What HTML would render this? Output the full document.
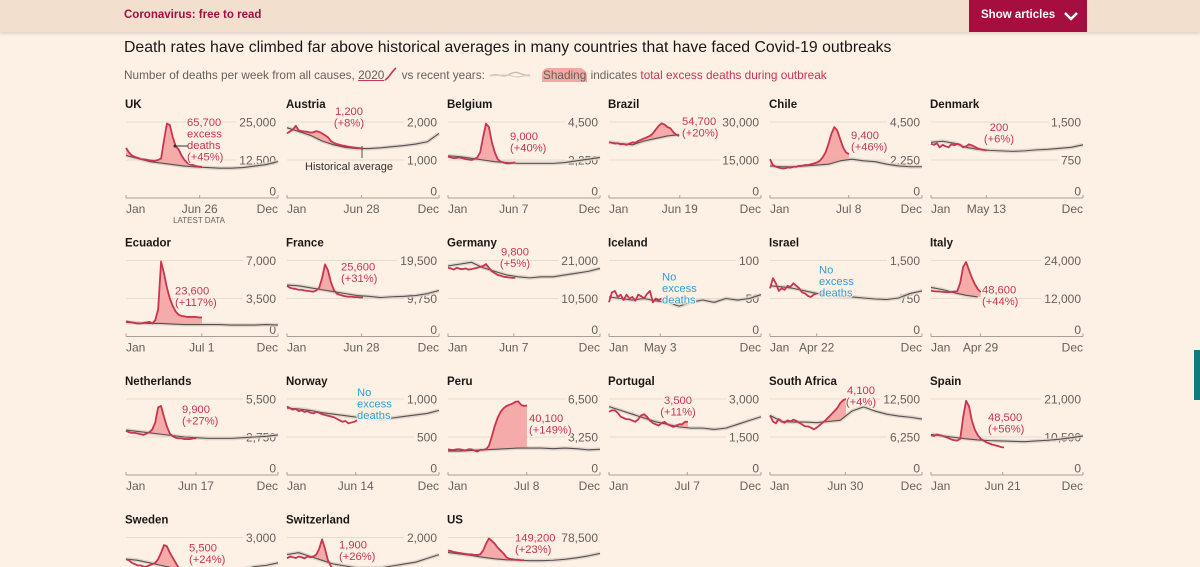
<!DOCTYPE html>
<html><head><meta charset="utf-8">
<style>
html,body{margin:0;padding:0;}
body{width:1200px;height:567px;overflow:hidden;background:#fdf1e6;font-family:"Liberation Sans",sans-serif;position:relative;}
#topbar{position:absolute;left:0;top:0;width:1200px;height:32px;background:#f2dfce;box-shadow:0 2px 3px rgba(0,0,0,0.12);}
#topbar .lnk{position:absolute;left:124px;top:9px;font-size:11.5px;font-weight:bold;color:#a50e3f;}
#btn{position:absolute;left:969px;top:0;width:118px;height:32px;background:#a50e3f;color:#fff;font-size:11.5px;font-weight:bold;}
#btn span{position:absolute;left:12px;top:9px;}
#title{position:absolute;left:124px;top:39px;font-size:15.8px;color:#1a1817;white-space:nowrap;}
#sub{position:absolute;left:124px;top:67px;font-size:11.8px;color:#66605c;white-space:nowrap;}
#sub .red{color:#c9344f;}
#teal{position:absolute;left:1194px;top:350px;width:6px;height:50px;background:#0f7a80;}
svg#chart{position:absolute;left:0;top:0;}
</style></head>
<body>
<div id="topbar">
  <div class="lnk">Coronavirus: free to read</div>
  <div id="btn"><span>Show articles</span>
    <svg width="16" height="12" style="position:absolute;left:94px;top:11px"><polyline points="2,2 8,8 14,2" fill="none" stroke="#fff" stroke-width="2.5"/></svg>
  </div>
</div>
<div id="title">Death rates have climbed far above historical averages in many countries that have faced Covid-19 outbreaks</div>
<div id="sub">Number of deaths per week from all causes, <span style="text-decoration:underline;text-decoration-color:#c9344f">2020</span><svg width="14" height="14" style="vertical-align:-2px"><path d="M1,13 C5,11 8,4 12,1" stroke="#c9344f" stroke-width="1.6" fill="none"/></svg> vs recent years: <svg width="44" height="10" style="vertical-align:-1px"><path d="M2,6 C10,2 14,9 22,4 S34,7 42,5" stroke="#c8bfb7" stroke-width="1.5" fill="none"/><path d="M2,5 C10,7 16,3 24,6 S36,4 42,6" stroke="#d6cdc4" stroke-width="1.2" fill="none"/></svg> &nbsp; <span style="background:#f4a8a3;border-radius:6px 8px 0 0;padding:0 1px">Shading</span> indicates <span class="red">total excess deaths during outbreak</span></div>
<div id="teal"></div>
<svg id="chart" width="1200" height="567"></svg>
<script>
const countries = ["UK","Austria","Belgium","Brazil","Chile","Denmark","Ecuador","France","Germany","Iceland","Israel","Italy","Netherlands","Norway","Peru","Portugal","South Africa","Spain","Sweden","Switzerland","US"];
const yMax = [25000,2000,4500,30000,4500,1500,7000,19500,21000,100,1500,24000,5500,1000,6500,3000,12500,21000,3000,2000,78500];
const yTickTop = ["25,000","2,000","4,500","30,000","4,500","1,500","7,000","19,500","21,000","100","1,500","24,000","5,500","1,000","6,500","3,000","12,500","21,000","3,000","2,000","78,500"];
const yTickMid = ["12,500","1,000","2,250","15,000","2,250","750","3,500","9,750","10,500","50","750","12,000","2,750","500","3,250","1,500","6,250","10,500","1,500","1,000","39,250"];
const latestLabel = ["Jun 26","Jun 28","Jun 7","Jun 19","Jul 8","May 13","Jul 1","Jun 28","Jun 7","May 3","Apr 22","Apr 29","Jun 17","Jun 14","Jul 8","Jul 7","Jun 30","Jun 21","Jun 28","Jun 28","Jun 28"];
const latestDay = [177,179,158,170,189,133,182,179,158,123,112,119,168,165,189,188,181,172,179,179,179];
const excessLabel = [["65,700","excess","deaths","(+45%)"],["1,200","(+8%)"],["9,000","(+40%)"],["54,700","(+20%)"],["9,400","(+46%)"],["200","(+6%)"],["23,600","(+117%)"],["25,600","(+31%)"],["9,800","(+5%)"],["No","excess","deaths"],["No","excess","deaths"],["48,600","(+44%)"],["9,900","(+27%)"],["No","excess","deaths"],["40,100","(+149%)"],["3,500","(+11%)"],["4,100","(+4%)"],["48,500","(+56%)"],["5,500","(+24%)"],["1,900","(+26%)"],["149,200","(+23%)"]];
const hasExcess = [1,1,1,1,1,1,1,1,1,0,0,1,1,0,1,1,1,1,1,1,1];
// weekly 2020 deaths (week 0 = Jan)
const s2020 = [
[16500,15000,14000,13500,13200,12800,12700,12600,12400,12300,12300,12500,13000,19000,24500,24000,20000,17000,16000,14000,12500,11500,11000,10800,10500,10300,10200],
[1700,1750,1800,1900,1780,1760,1750,1740,1720,1730,1760,1740,1700,1650,1600,1500,1450,1420,1400,1380,1370,1350,1340,1330,1320,1310,1300],
[2450,2400,2350,2380,2400,2350,2300,2280,2250,2300,2400,2700,3600,4400,4200,3300,2700,2300,2150,2100,2050,2050,2080,2100],
[22000,21800,21500,21600,21200,21300,21000,21500,22000,21800,22500,23000,23500,24000,24500,25500,27000,28500,29500,29000,28000,27500,26000,25000,24500],
[2300,1950,1850,1800,1750,1750,1800,1800,1850,1850,1900,1900,1950,1950,2000,2050,2100,2200,2400,2700,3200,3800,4200,4000,3500,3000,2700,2600],
[1070,1050,1080,1000,1050,1020,1000,1060,1040,1070,1050,1000,1020,1060,1040,1010,980,960,950,940],
[1400,1350,1300,1250,1200,1200,1250,1300,1350,1200,1500,2500,6900,5800,4500,3500,2800,2300,2000,1900,1850,1800,1800,1800,1800,1750,1750],
[13000,12500,12300,12200,12000,12000,11800,11700,11600,11500,11800,12500,15000,18500,17000,14000,12000,11000,10700,10500,10300,10200,10200,10100,10100,10000,10000],
[19000,18800,18500,19000,18700,18600,18800,18500,18600,18800,19000,19200,19500,20000,19000,18000,17500,17000,16800,16500,16400,16300,16200,16200],
[45,58,60,52,55,48,55,50,52,47,55,53,50,56,60,45,50,48,50],
[950,1150,1050,900,950,920,1000,980,1050,1000,950,870,850,800,780,830,850],
[14500,14300,14200,14200,14100,14000,14000,14100,14200,14300,17000,22000,23500,21000,18500,16500,15000,14000],
[3200,3100,3050,3050,3000,2950,2900,3000,3100,3300,3800,4900,5000,4200,3500,3000,2800,2700,2650,2650,2600,2600,2600,2650,2650],
[900,880,860,870,840,850,830,840,820,810,830,820,800,790,780,770,760,740,720,700,710,680,690,700,720],
[2200,2150,2150,2200,2200,2150,2100,2200,2200,2100,2000,2150,2150,2200,2500,3300,4200,4900,5400,5700,5900,6000,6100,6250,6300,6000,5900,5950],
[2500,2550,2550,2450,2300,2250,2200,2200,2150,2100,2200,2350,2400,2300,2150,2050,2000,1950,2050,2100,2000,1950,1900,1950,2000,2000,2100,2100],
[9800,8800,8500,9200,8800,8600,9000,8800,9100,8900,8600,8300,8000,8000,7800,7500,7800,8200,8600,9000,9500,10000,10500,11000,11800,12300,12500],
[11000,10800,11200,11000,10800,10500,10200,9800,9600,9500,10000,16000,20500,19000,15000,12500,11000,10000,9500,9000,8700,8400,8200,8000,7700,7600],
[2150,2100,2000,1950,1900,1900,1850,1850,1900,1950,2000,2150,2400,2700,2650,2400,2200,2000,1800,1700,1650,1600,1550,1550,1500,1500],
[1450,1500,1480,1460,1500,1480,1450,1500,1480,1500,1550,1700,1950,1700,1400,1250,1150,1100,1100,1100,1100,1100,1100,1100,1100,1100],
[65000,64500,63500,63000,62500,62000,61500,61000,61000,60500,60500,61000,65000,72000,77500,75000,72000,68000,65000,62000,58000,56500,56000,55500,55500,55000,55000]
];
// historical average, every 4 weeks (0,4,...,52)
const sAvg = [
[14000,13000,12000,11500,11000,10500,10200,10000,9800,9800,10000,10500,11000,12000],
[1850,1750,1650,1500,1400,1330,1300,1300,1320,1350,1380,1420,1480,1700],
[2500,2450,2350,2250,2150,2100,2050,2050,2050,2050,2100,2200,2300,2400],
[22000,21500,21000,22500,23500,24500,25000],
[1900,1850,1850,1900,1950,2000,2200,2300,2200,2150,2000,1900,1850,1850],
[1100,1120,1080,1000,960,940,930,920,930,950,960,980,1000,1050],
[1300,1250,1200,1200,1150,1100,1100,1100,1100,1050,1050,1050,1100,1050],
[13200,13000,12500,12000,11500,11000,10500,10300,10000,10200,10300,10500,11000,11800],
[19500,20000,20500,19000,18000,17000,16500,16200,16500,16500,17000,17500,18000,18800],
[52,50,48,50,47,45,40,45,48,45,50,48,50,55],
[1000,980,950,900,850,820,800,780,760,740,730,760,850,900],
[15500,14800,13800,13000,12500],
[3250,3150,3050,2950,2850,2750,2700,2650,2650,2650,2700,2750,2800,2900],
[880,870,850,820,800,780,760,750,740,750,770,790,810,850],
[2050,2050,2100,2150,2200,2250,2300,2300,2300,2250,2300,2250,2150,2200],
[2700,2550,2400,2250,2100,2000,1900,1850,1850,1800,1850,2000,2150,2300],
[9800,8800,8700,8700,8600,8800,9000,10500,11200,10500,10000,9700,9500,9200],
[11200,10800,10400,10000,9700,9500,9400,9300,9200,9400,9600,9900,10300,10800],
[2150,2100,2000,1900,1800,1750,1700,1650,1650,1700,1750,1850,1900,2000],
[1550,1600,1500,1400,1300,1250,1200,1200,1200,1250,1300,1350,1450,1550],
[63000,61500,60000,58000,56500,55500,55000,54500,54500,55000,56000,57500,59500,62000]
];
// annotation offsets from panel origin (layout, px)
const noteOffset = [[61,13],[48,2],[62,27],[73,12],[81,26],[54,18],[49,43],[54,19],[53,4],[53,29],[49,22],[51,42],[56,23],[70,6],[81,32],[55,14],[77,4],[57,31],[63,23],[52,20],[67,13]];
const centered = [0,1,0,0,0,1,0,0,1,0,0,0,0,0,0,1,1,0,0,0,0];

const NS = "http://www.w3.org/2000/svg";
const svg = document.getElementById('chart');
function mk(tag, attrs, parent){ const e=document.createElementNS(NS,tag); for(const k in attrs) e.setAttribute(k,attrs[k]); (parent||svg).appendChild(e); return e; }
const W = 152;
countries.forEach((name,i)=>{
  const c = i%6, r = Math.floor(i/6);
  const L = 126 + 161*c, T = 104 + 138.5*r;
  const zero = T+94, h = 76;
  const g = mk('g',{});
  
  
  const xS = w => L + w/52*W;
  const yS = v => zero - v/yMax[i]*h;
  const avgAt = w => { const a=sAvg[i]; const k=w/4; const j=Math.min(Math.floor(k),a.length-1); if(j>=a.length-1) return a[a.length-1]; const f=k-j; return a[j]*(1-f)+a[j+1]*f; };
  const t = mk('text',{x:L-1,y:T+4,'font-size':11.5,'font-weight':'bold',fill:'#1a1817'},g); t.textContent=name;
  
  
  // y labels + gridlines
  [[yTickTop[i],zero-h,1],[yTickMid[i],zero-h/2,1],['0',zero-7,0]].forEach(p=>{
    const yl = mk('text',{x:L+W-2,y:p[1]+4.5,'text-anchor':'end','font-size':12,fill:'#66605c'},g);
    yl.textContent=p[0];
    
    
    if(p[2]){
      const tw = yl.getComputedTextLength ? yl.getComputedTextLength() : 36;
      const gl=mk('line',{x1:L,x2:L+W-tw-5,y1:p[1],y2:p[1],stroke:'#e6dbd0','stroke-width':1},g);
      g.insertBefore(gl, g.firstChild.nextSibling);
      
      
    }
  });
  const aPts = sAvg[i].map((v,k)=>xS(k*4)+','+yS(v)).join(' ');
  const band = mk('polyline',{points:aPts,fill:'none',stroke:'#d9d0c7','stroke-width':4,'stroke-linejoin':'round',opacity:0.8},g);
  
  
  const s = s2020[i];
  if(hasExcess[i]){
    const top = s.map((v,w)=>xS(w)+','+yS(Math.max(v,avgAt(w))));
    const bot = s.map((v,w)=>xS(w)+','+yS(avgAt(w))).reverse();
    const sh = mk('polygon',{points:top.concat(bot).join(' '),fill:'#f4a3a0',opacity:0.9},g);
    
    
  }
  const al = mk('polyline',{points:aPts,fill:'none',stroke:'#55504c','stroke-width':1.1,'stroke-linejoin':'round'},g);
  
  
  const rl = mk('polyline',{points:s.map((v,w)=>xS(w)+','+yS(v)).join(' '),fill:'none',stroke:'#c9344f','stroke-width':1.8,'stroke-linejoin':'round'},g);
  
  
  // x axis
  const ax = mk('line',{x1:L,x2:L+W,y1:zero,y2:zero,stroke:'#a8a098','stroke-width':1},g);
  
  
  const lx = L + latestDay[i]/365*W;
  [L,lx,L+W].forEach(x=>{ const tk=mk('line',{x1:x,x2:x,y1:zero-3,y2:zero,stroke:'#a8a098'},g);
    
     });
  [['Jan',L,'start'],[latestLabel[i],lx,'middle'],['Dec',L+W,'end']].forEach(p=>{
    const xl = mk('text',{x:p[1],y:zero+15,'text-anchor':p[2],'font-size':12,fill:'#66605c'},g);
    xl.textContent=p[0];
    
    
  });
  const n = mk('text',{'font-size':11.2,fill:hasExcess[i]?'#c9344f':'#2e9fd0',stroke:'#fdf1e6','stroke-width':2,'paint-order':'stroke','text-anchor':centered[i]?'middle':'start'},g);
  
  
  excessLabel[i].forEach((ln,k)=>{ const ts=mk('tspan',{x:L+noteOffset[i][0]+(centered[i]?14:0),y:T+noteOffset[i][1]+9+k*11.5},n); ts.textContent=ln; });
});
(function(){
  const p = mk('line',{x1:175,y1:146,x2:188,y2:146,stroke:'#33302e','stroke-width':1});
  
  
  const d = mk('circle',{cx:175,cy:146,r:1.5,fill:'#33302e'});
  
  
  const l = mk('line',{x1:362,y1:146,x2:362,y2:158,stroke:'#55504c','stroke-width':1});
  
  
  const t = mk('text',{x:305,y:170,'font-size':11,fill:'#33302e'});
  t.textContent='Historical average';
  
  
  const ld = mk('text',{x:199,y:223,'font-size':8,'text-anchor':'middle',fill:'#66605c'});
  ld.textContent='LATEST DATA';
  
  
})();
</script>
</body></html>
